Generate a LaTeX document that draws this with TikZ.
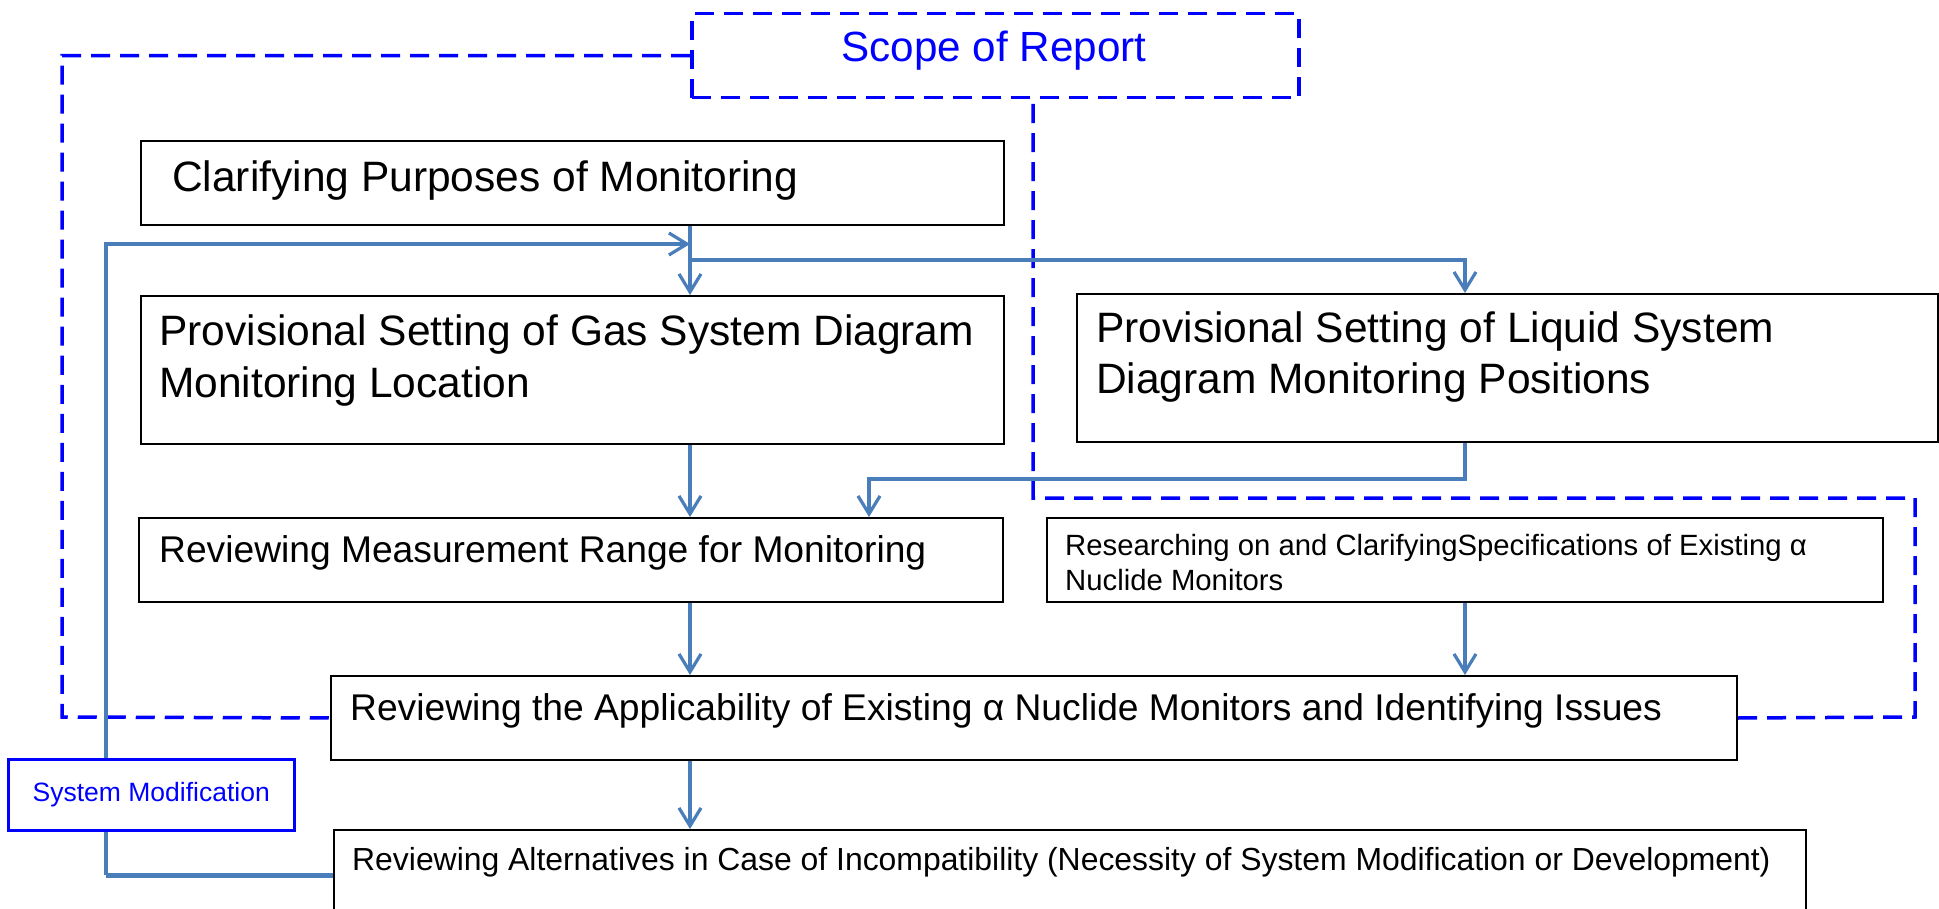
\documentclass[tikz,border=0pt]{standalone}
\usepackage{fontspec}
\setmainfont{Liberation Sans}
\usetikzlibrary{arrows.meta}
\definecolor{connblue}{HTML}{4A7EBB}
\definecolor{scopeblue}{HTML}{0000FF}
\begin{document}
\begin{tikzpicture}[x=1pt,y=-1pt,
  box/.style={draw=black, line width=2pt, inner sep=0pt, anchor=north west},
  txt/.style={anchor=base west, inner sep=0pt, font=\fontsize{#1pt}{#1pt}\selectfont},
  conn/.style={draw=connblue, line width=3.2pt},
  connA/.style={conn, -{Straight Barb[length=18pt,width=22pt,line width=3.2pt]}},
  scopeline/.style={draw=scopeblue, line width=3.5pt, dash pattern=on 19pt off 10pt},
]
\useasboundingbox (0,0) rectangle (1939,909);

% boxes
\node[box, draw=scopeblue, line width=3.5pt, dash pattern=on 19pt off 10pt,
      minimum width=607pt, minimum height=84pt] (scope) at (690,12) {};
\node[txt=42.2, anchor=base, text=scopeblue] (scopet) at (994,62) {Scope of Report};

\node[box, minimum width=863pt, minimum height=84pt] (clar) at (140,140) {};
\node[txt=42.5] (clart) at (172,192) {Clarifying Purposes of Monitoring};

\node[box, minimum width=863pt, minimum height=148pt] (gas) at (140,295) {};
\node[txt=42.5] (gast1) at (159,345) {Provisional Setting of Gas System Diagram};
\node[txt=42.5] (gast2) at (159,397) {Monitoring Location};

\node[box, minimum width=861pt, minimum height=148pt] (liq) at (1076,293) {};
\node[txt=42.5] (liqt1) at (1096,343) {Provisional Setting of Liquid System};
\node[txt=42.5] (liqt2) at (1096,393) {Diagram Monitoring Positions};

\node[box, minimum width=864pt, minimum height=84pt] (rev) at (138,517) {};
\node[txt=37.2] (revt) at (159,562) {Reviewing Measurement Range for Monitoring};

\node[box, minimum width=836pt, minimum height=84pt] (res) at (1046,517) {};
\node[txt=29.3] (rest1) at (1065,555) {Researching on and ClarifyingSpecifications of Existing α};
\node[txt=29.3] (rest2) at (1065,590) {Nuclide Monitors};

\node[box, minimum width=1406pt, minimum height=84pt] (appl) at (330,675) {};
\node[txt=37.2] (applt) at (350,720) {Reviewing the Applicability of Existing α Nuclide Monitors and Identifying Issues};

\node[box, minimum width=1472pt, minimum height=84pt] (alt) at (333,829) {};
\node[txt=31.9] (altt) at (352,870) {Reviewing Alternatives in Case of Incompatibility (Necessity of System Modification or Development)};

\node[box, draw=scopeblue, line width=2.5pt, minimum width=286pt, minimum height=71pt,
      text=scopeblue, font=\fontsize{26.5pt}{26.5pt}\selectfont] (sm) at (7,758) {System Modification};

% helper coordinates
\coordinate (c1) at (690,0);
\coordinate (cl) at (1465,0);
\coordinate (j1) at (690,260);
\coordinate (c2) at (869,479);
\coordinate (fb) at (106,875);
\coordinate (fbt) at (690,244);
\coordinate (dl) at (62,717);
\coordinate (dr) at (1915,717);
\coordinate (dt) at (1033,498);

% scope boundary
\draw[scopeline] (scope.west) -| (dl) -- (appl.west);
\draw[scopeline] (appl.east) -- (dr) |- (dt) -- (scope.south -| dt);

% connectors
\draw[connA] (clar.south -| c1) -- (gas.north -| c1);
\draw[connA] (j1) -| (liq.north -| cl);
\draw[connA] (gas.south -| c1) -- (rev.north -| c1);
\draw[connA] (liq.south -| cl) |- (c2) -- (rev.north -| c2);
\draw[connA] (rev.south -| c1) -- (appl.north -| c1);
\draw[connA] (res.south -| cl) -- (appl.north -| cl);
\draw[connA] (appl.south -| c1) -- (alt.north -| c1);

% feedback loop
\draw[conn, line width=5pt] (alt.west |- fb) -- (fb);
\draw[conn] (fb) -- (sm.south -| fb);
\draw[connA] (sm.north -| fb) |- (fbt);
\end{tikzpicture}
\end{document}
